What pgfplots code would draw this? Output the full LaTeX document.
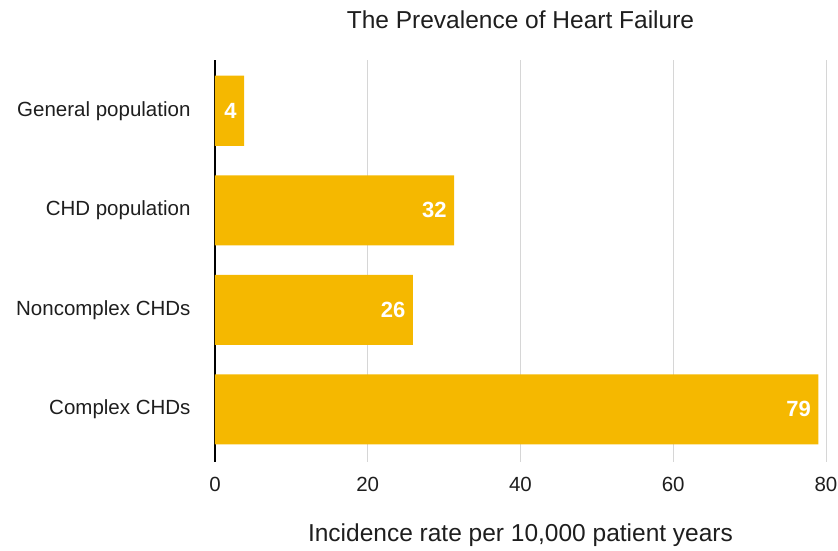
\documentclass[border=0pt]{standalone}
\usepackage{pgfplots}
\pgfplotsset{compat=1.18}
\usepackage{fontspec}
\setmainfont{Liberation Sans}
\definecolor{barcol}{HTML}{F5B800}
\definecolor{gridcol}{HTML}{D6D6D6}
\definecolor{txt}{HTML}{1E1E1E}
\begin{document}
\begin{tikzpicture}
\begin{axis}[
  name=ax,
  scale only axis,
  width=611bp, height=402bp,
  xbar, bar width=70bp,
  xmin=0, xmax=80,
  ymin=-0.51, ymax=3.53,
  y dir=reverse,
  ytick={0,1,2,3},
  yticklabels={General population, CHD population, Noncomplex CHDs, Complex CHDs},
  xtick={0,20,40,60,80},
  /pgf/number format/assume math mode=true,
  xmajorgrids, major grid style={gridcol, line width=0.8bp},
  axis x line*=bottom,
  x axis line style={draw=none},
  axis y line*=left,
  y axis line style={black, line width=1.2bp, -},
  major tick length=0pt,
  tick style={draw=none},
  xticklabel style={font=\fontsize{20.5bp}{24bp}\selectfont, text=txt, yshift=-12bp},
  yticklabel style={font=\fontsize{20.5bp}{24bp}\selectfont, text=txt, xshift=-21bp},
  xlabel={Incidence rate per 10,000 patient years},
  xlabel style={font=\fontsize{24.5bp}{28bp}\selectfont, text=txt, at={(rel axis cs:0.5,0)}, anchor=center, yshift=-73bp},
  title={The Prevalence of Heart Failure},
  title style={font=\fontsize{24.5bp}{28bp}\selectfont, text=txt, at={(rel axis cs:0.5,1)}, anchor=center, yshift=34bp},
  nodes near coords,
  point meta=explicit symbolic,
  every node near coord/.append style={anchor=east, xshift=-4bp, text=white, font=\fontsize{22bp}{24bp}\selectfont\bfseries},
  clip=false,
]
\addplot[fill=barcol, draw=none] table[x=v, y=c, meta=l] {
c v l
0 3.8 4
1 31.3 32
2 25.9 26
3 79.0 79
};
\end{axis}
\pgfresetboundingbox
\path (ax.south west) ++(-215bp,-89bp) rectangle ++(838bp,551bp);
\end{tikzpicture}
\end{document}
